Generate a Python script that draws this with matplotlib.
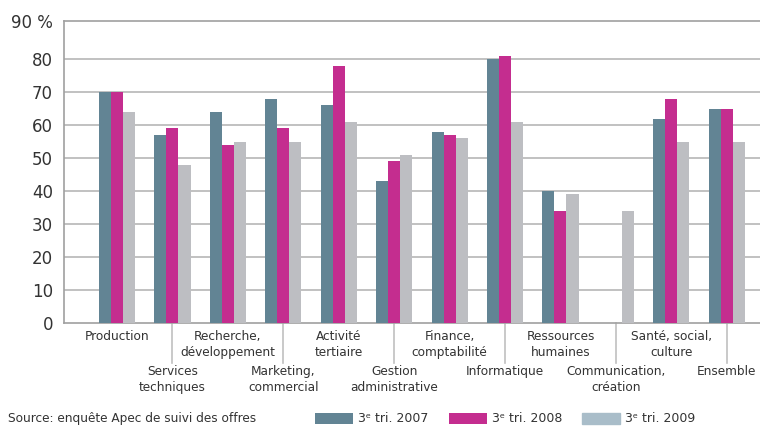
import numpy as np
import matplotlib
matplotlib.use("Agg")
import matplotlib.pyplot as plt
import matplotlib.transforms as mtransforms

categories = ["Production", "Services\ntechniques", "Recherche,\ndéveloppement",
              "Marketing,\ncommercial", "Activité\ntertiaire", "Gestion\nadministrative",
              "Finance,\ncomptabilité", "Informatique", "Ressources\nhumaines",
              "Communication,\ncréation", "Santé, social,\nculture", "Ensemble"]
t2007 = [70, 57, 64, 68, 66, 43, 58, 80, 40, 0, 62, 65]
t2008 = [70, 59, 54, 59, 78, 49, 57, 81, 34, 0, 68, 65]
t2009 = [64, 48, 55, 55, 61, 51, 56, 61, 39, 34, 55, 55]
series_labels = ["3ᵉ tri. 2007", "3ᵉ tri. 2008", "3ᵉ tri. 2009"]
yticks = [0, 10, 20, 30, 40, 50, 60, 70, 80]

col07 = "#628494"
col08 = "#C42D8F"
col09 = "#BDBEC2"
col09_leg = "#A9BDC9"

fig = plt.figure(figsize=(7.6, 4.28), dpi=100)
ax = fig.add_axes([64 / 760, 105 / 428, 696 / 760, 302 / 428])

x = np.arange(len(categories))
w = 0.217
b1 = ax.bar(x - w, t2007, w, color=col07, label=series_labels[0], zorder=3)
b2 = ax.bar(x, t2008, w, color=col08, label=series_labels[1], zorder=3)
b3 = ax.bar(x + w, t2009, w, color=col09, label=series_labels[2], zorder=3)

top = 91.6
ax.set_ylim(0, top)
ax.set_xlim(-0.957, 11.6)
ax.set_yticks(yticks + [top])
ax.set_yticklabels([str(v) for v in yticks] + ["90 %"], fontsize=12, color="#333333")
ax.tick_params(axis="y", length=0, pad=8)
ax.set_xticks([])
for v in yticks[1:]:
    ax.axhline(v, color="#BCBCBC", lw=1.3, zorder=1)
for s in ["left", "bottom", "top"]:
    ax.spines[s].set_color("#A0A0A0")
    ax.spines[s].set_linewidth(1.2)
ax.spines["right"].set_visible(False)

# category labels on two rows, separators at odd categories
trans = mtransforms.blended_transform_factory(ax.transData, ax.transAxes)
for i, lab in enumerate(categories):
    yy = -0.024 if i % 2 == 0 else -0.14
    ax.text(i, yy, lab, transform=trans, ha="center", va="top", fontsize=8.7,
            color="#333333", linespacing=1.25)
    if i % 2 == 1:
        ax.plot([i, i], [0, -0.132], transform=trans, color="#C0C0C0", lw=1.2,
                clip_on=False)

leg = fig.legend(handles=[b1, b2, b3], loc="center left", bbox_to_anchor=(315 / 760, 1 - 419 / 428),
                 ncol=3, frameon=False, fontsize=9, handlelength=3.05, handleheight=0.95,
                 handletextpad=0.4, columnspacing=1.6, borderpad=0, borderaxespad=0)
for t in leg.get_texts():
    t.set_color("#333333")
leg.legend_handles[2].set_color(col09_leg)

fig.text(8 / 760, 3 / 428, "Source: enquête Apec de suivi des offres", fontsize=8.7,
         color="#333333", va="bottom", ha="left")

fig.savefig("out.png", dpi=100)
